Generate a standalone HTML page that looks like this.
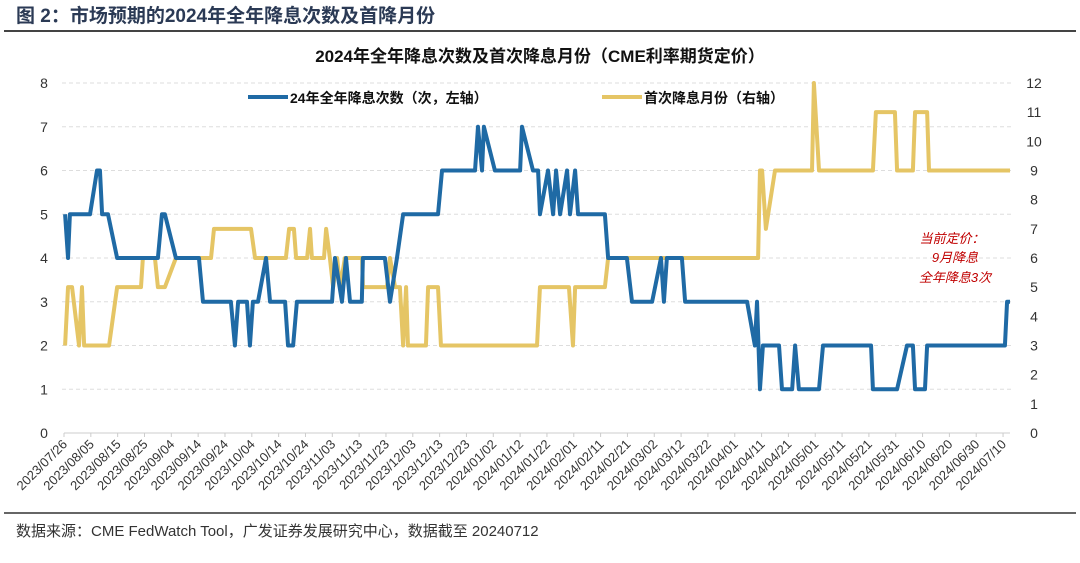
<!DOCTYPE html>
<html><head><meta charset="utf-8"><style>
body{margin:0;background:#fff;width:1080px;height:558px;overflow:hidden;font-family:"Liberation Sans","Noto Sans CJK SC",sans-serif}
</style></head><body>
<svg width="1080" height="558" xmlns="http://www.w3.org/2000/svg" style="font-family:'Liberation Sans','Noto Sans CJK SC',sans-serif">
<text x="16" y="22" font-size="19" font-weight="bold" fill="#2b3a55">图 2：市场预期的2024年全年降息次数及首降月份</text>
<line x1="4" y1="31" x2="1076" y2="31" stroke="#444" stroke-width="2"/>
<text x="540" y="62" font-size="17" font-weight="bold" text-anchor="middle" fill="#111">2024年全年降息次数及首次降息月份（CME利率期货定价）</text>
<g id="grid"></g>
<g id="axes"></g>
<g id="series"></g>
<g>
<line x1="248" y1="97" x2="288" y2="97" stroke="#1f6aa5" stroke-width="4"/>
<text x="290" y="103" font-size="14" font-weight="bold" fill="#111">24年全年降息次数（次，左轴）</text>
<line x1="602" y1="97" x2="642" y2="97" stroke="#e5c565" stroke-width="4"/>
<text x="644" y="103" font-size="14" font-weight="bold" fill="#111">首次降息月份（右轴）</text>
</g>
<g font-size="13" fill="#c00000" font-style="italic" text-anchor="middle">
<text x="952" y="243">当前定价：</text><text x="955" y="262">9月降息</text><text x="955" y="282">全年降息3次</text>
</g>
<line x1="4" y1="513" x2="1076" y2="513" stroke="#333" stroke-width="1.5"/>
<text x="16" y="536" font-size="15" fill="#333">数据来源：CME FedWatch Tool，广发证券发展研究中心，数据截至 20240712</text>
</svg>
<script>
const blueDays=[0.4,1.5,2.2,9.7,12.3,13.4,14.2,16.4,19.8,35,36.5,37.6,41.7,50.3,51.8,62.2,63.7,64.9,68.2,69.3,70.4,72.3,75.3,76.8,82.4,83.5,85.4,86.8,99.9,101,103.6,105.1,106.6,111,111.4,119.6,121.5,124.1,126.4,139.4,140.9,153.2,154.3,155.8,156.5,160.6,170,170.7,174.8,176.7,177.4,180.4,182.3,183.4,184.9,187.5,188.6,190.5,191.6,201.6,202.8,209.8,211.7,219.2,222.5,223.6,224.7,230.3,231.5,254.6,257.5,258.3,259.4,260.5,266.5,267.6,271.4,272.5,273.9,281.4,282.9,300.8,301.5,310.5,314.2,316.4,317.2,320.9,321.7,350.7,351.5,352.6];
const blueVals=[5,4,5,5,6,6,5,5,4,4,5,5,4,4,3,3,2,3,3,2,3,3,4,3,3,2,2,3,3,4,3,4,3,3,4,4,3,4,5,5,6,6,7,6,7,6,6,7,6,6,5,6,5,6,5,6,5,6,5,5,4,4,3,3,4,3,4,4,3,3,2,3,1,2,2,1,1,2,1,1,2,2,1,1,2,2,1,1,2,2,3,3];
const yellowDays=[0.4,1.5,3,5.6,6.7,7.5,16.8,19.8,28.7,29.4,33.9,35,37.6,41.7,54.8,55.9,69.7,71.2,82.7,83.9,85.7,86.5,90.6,91.7,92.4,96.9,97.7,99.1,100.3,101.8,102.9,104.7,111.1,111.4,120.4,121.5,123.4,125.2,126.4,127.5,128.2,134.9,135.7,139.4,140.5,176.3,177.4,188.2,189.7,190.5,201.6,202.8,258.7,259.4,260.2,261.6,265,278.8,279.5,281.4,301.5,302.6,309.7,310.5,316.4,317.2,321.7,322.4,352.6];
const yellowVals=[3,5,5,3,5,3,3,5,5,6,6,5,5,6,6,7,7,6,6,7,7,6,6,7,6,6,7,6,5,6,5,6,6,5,5,6,5,5,3,5,3,3,5,5,3,3,5,5,3,5,5,6,6,9,9,7,9,9,12,9,9,11,11,9,9,11,11,9,9];
const leftTicks=[0,1,2,3,4,5,6,7,8];
const rightTicks=[0,1,2,3,4,5,6,7,8,9,10,11,12];
const xTickLabels=["2023/07/26","2023/08/05","2023/08/15","2023/08/25","2023/09/04","2023/09/14","2023/09/24","2023/10/04","2023/10/14","2023/10/24","2023/11/03","2023/11/13","2023/11/23","2023/12/03","2023/12/13","2023/12/23","2024/01/02","2024/01/12","2024/01/22","2024/02/01","2024/02/11","2024/02/21","2024/03/02","2024/03/12","2024/03/22","2024/04/01","2024/04/11","2024/04/21","2024/05/01","2024/05/11","2024/05/21","2024/05/31","2024/06/10","2024/06/20","2024/06/30","2024/07/10"];
const NS="http://www.w3.org/2000/svg";
const X=d=>64+d*2.683;
const YL=v=>433-v*43.75;
const YR=v=>433-v*(350/12);
function mk(tag,attrs,parent,text){const e=document.createElementNS(NS,tag);for(const k in attrs)e.setAttribute(k,attrs[k]);if(text!==undefined)e.textContent=text;parent.appendChild(e);return e;}
const grid=document.getElementById('grid'),axes=document.getElementById('axes'),series=document.getElementById('series');
leftTicks.forEach(v=>{
  if(v>0){const g=mk('line',{x1:62,x2:1012,y1:YL(v),y2:YL(v),stroke:'#ddd','stroke-dasharray':'4,3'},grid);
  
  }
  const t=mk('text',{x:44,y:YL(v)+5,'font-size':14,'text-anchor':'middle',fill:'#333'},axes,String(v));
  
  
});
rightTicks.forEach(v=>{
  const t=mk('text',{x:1034,y:YR(v)+5,'font-size':14,'text-anchor':'middle',fill:'#333'},axes,String(v));
  
  
});
const xa=mk('line',{x1:64,x2:1010,y1:433,y2:433,stroke:'#ccc','stroke-width':1},axes);


xTickLabels.forEach((s,i)=>{
  const x=X(i*10);
  const tk=mk('line',{x1:x,x2:x,y1:433,y2:437,stroke:'#ccc'},axes);
  
  
  const t=mk('text',{x:x+4,y:445,'font-size':13,'text-anchor':'end',fill:'#333',transform:`rotate(-45 ${x+4} 445)`},axes,s);
  
  
});
const yp=yellowDays.map((d,i)=>X(d)+','+YR(yellowVals[i])).join(' ');
const yl=mk('polyline',{points:yp,fill:'none',stroke:'#e5c565','stroke-width':4,'stroke-linejoin':'round'},series);


const bp=blueDays.map((d,i)=>X(d)+','+YL(blueVals[i])).join(' ');
const bl=mk('polyline',{points:bp,fill:'none',stroke:'#1f6aa5','stroke-width':4,'stroke-linejoin':'round'},series);


</script>
</body></html>
